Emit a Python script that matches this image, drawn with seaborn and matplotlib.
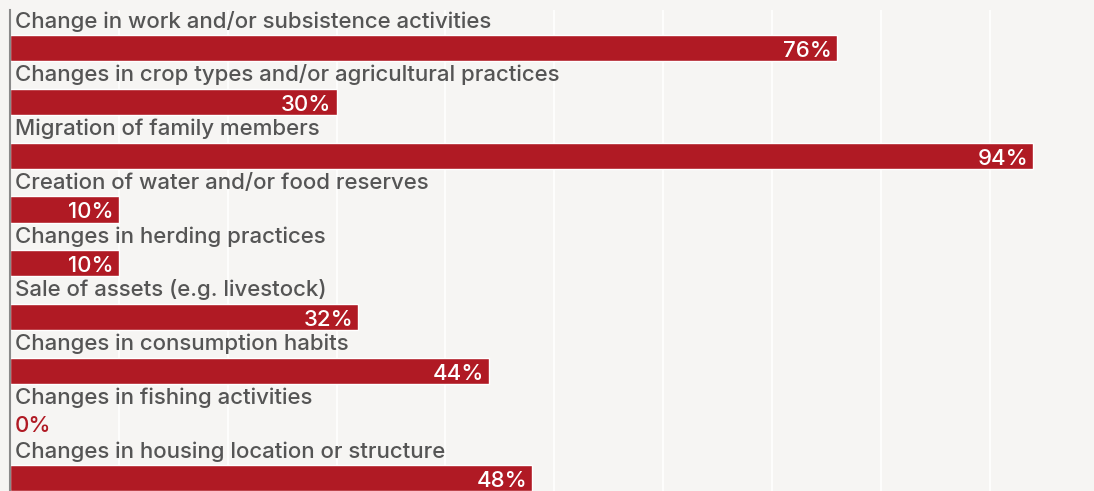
import matplotlib
matplotlib.use("Agg")
import matplotlib.pyplot as plt
import seaborn as sns
import pandas as pd

categories = [
    "Change in work and/or subsistence activities",
    "Changes in crop types and/or agricultural practices",
    "Migration of family members",
    "Creation of water and/or food reserves",
    "Changes in herding practices",
    "Sale of assets (e.g. livestock)",
    "Changes in consumption habits",
    "Changes in fishing activities",
    "Changes in housing location or structure",
]
shares = [76, 30, 94, 10, 10, 32, 44, 0, 48]

BAR_RED = "#b01a24"
BG = "#f6f5f3"
TEXT_GREY = "#555555"

sns.set_theme(style="white")
plt.rcParams["font.family"] = ["Inter", "DejaVu Sans"]

df = pd.DataFrame({"category": categories, "share": shares})

W, H = 1094, 491
fig = plt.figure(figsize=(W / 100, H / 100), dpi=100, facecolor=BG)
ax = fig.add_axes([10 / W, 0, (W - 10) / W, (H - 10) / H])
ax.set_facecolor(BG)

sns.barplot(data=df, y="category", x="share", orient="h", color=BAR_RED,
            width=0.49, saturation=1, ax=ax, zorder=2)

ax.set_xlim(0, 99.6)
ax.set_ylim(8.236, -0.713)
ax.set_xticks(range(10, 100, 10))
ax.xaxis.grid(True, color="white", linewidth=1.2, zorder=0)
ax.set_axisbelow(True)
ax.set_yticks([])
ax.set_xticklabels([])
ax.tick_params(length=0)
ax.set_xlabel("")
ax.set_ylabel("")
for side in ("top", "right", "bottom"):
    ax.spines[side].set_visible(False)
ax.spines["left"].set_color("#8a8a8a")
ax.spines["left"].set_linewidth(1.5)

for i, (cat, val) in enumerate(zip(categories, shares)):
    ax.annotate(cat, xy=(0, i - 0.385), xytext=(5, 0), textcoords="offset pixels",
                ha="left", va="baseline", fontsize=16, fontweight="medium",
                color=TEXT_GREY, zorder=3)
    if val > 0:
        ax.annotate(f"{val}%", xy=(val, i + 0.165), xytext=(-5, 0),
                    textcoords="offset pixels", ha="right", va="baseline",
                    fontsize=16, fontweight="medium", color="white", zorder=3)
    else:
        ax.annotate(f"{val}%", xy=(0, i + 0.13), xytext=(5, 0),
                    textcoords="offset pixels", ha="left", va="baseline",
                    fontsize=16, fontweight="medium", color=BAR_RED, zorder=3)

fig.savefig("out.png", dpi=100, facecolor=BG)
